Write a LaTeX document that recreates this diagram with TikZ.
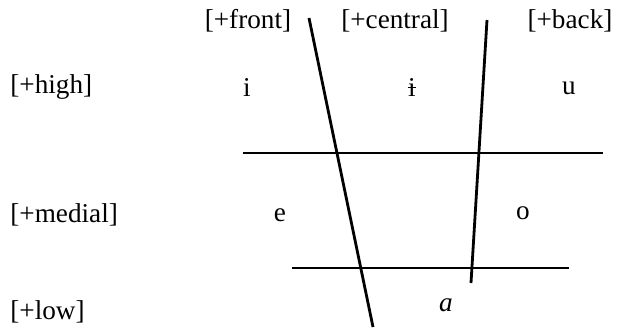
\documentclass[tikz,border=0pt]{standalone}
\usepackage{fontspec}
\setmainfont{Liberation Serif}
\begin{document}
\begin{tikzpicture}[x=0.5pt,y=-0.5pt,
  lbl/.style={font=\fontsize{13.6}{16}\selectfont, inner sep=0pt},
  vow/.style={font=\fontsize{13.6}{16}\selectfont, inner sep=0pt},
  rule/.style={line width=1.3pt},
  div/.style={line width=1.4pt}]
\useasboundingbox (0,0) rectangle (618,329);
% column labels
\node[lbl] (front) at (248,21) {[+front]};
\node[lbl] (central) at (395,21) {[+central]};
\node[lbl] (back) at (570,21) {[+back]};
% row labels
\node[lbl,anchor=west] (high) at (10,87) {[+high]};
\node[lbl,anchor=west] (medial) at (10,215) {[+medial]};
\node[lbl,anchor=west] (low) at (10,312) {[+low]};
% vowels
\node[vow] (vi) at (247,87) {i};
\node[vow] (vbi) at (412,87) {i};
\draw[line width=0.5pt] ([xshift=-2.2pt,yshift=-0.4pt]vbi.center) -- ([xshift=2.2pt,yshift=-0.4pt]vbi.center);
\node[vow] (vu) at (569,88) {u};
\node[vow] (ve) at (280,215) {e};
\node[vow] (vo) at (523,213) {o};
\node[vow] (va) at (446,305) {\textit{a}};
% lines
\coordinate (l1a) at (243,153);
\coordinate (l1b) at (603,153);
\coordinate (l2a) at (292,268);
\coordinate (l2b) at (569,268);
\coordinate (d1a) at (309,18);
\coordinate (d1b) at (373,327);
\coordinate (d2a) at (487,20);
\coordinate (d2b) at (471,283);
\draw[rule] (l1a) -- (l1b);
\draw[rule] (l2a) -- (l2b);
\draw[div] (d1a) -- (d1b);
\draw[div] (d2a) -- (d2b);
\end{tikzpicture}
\end{document}
